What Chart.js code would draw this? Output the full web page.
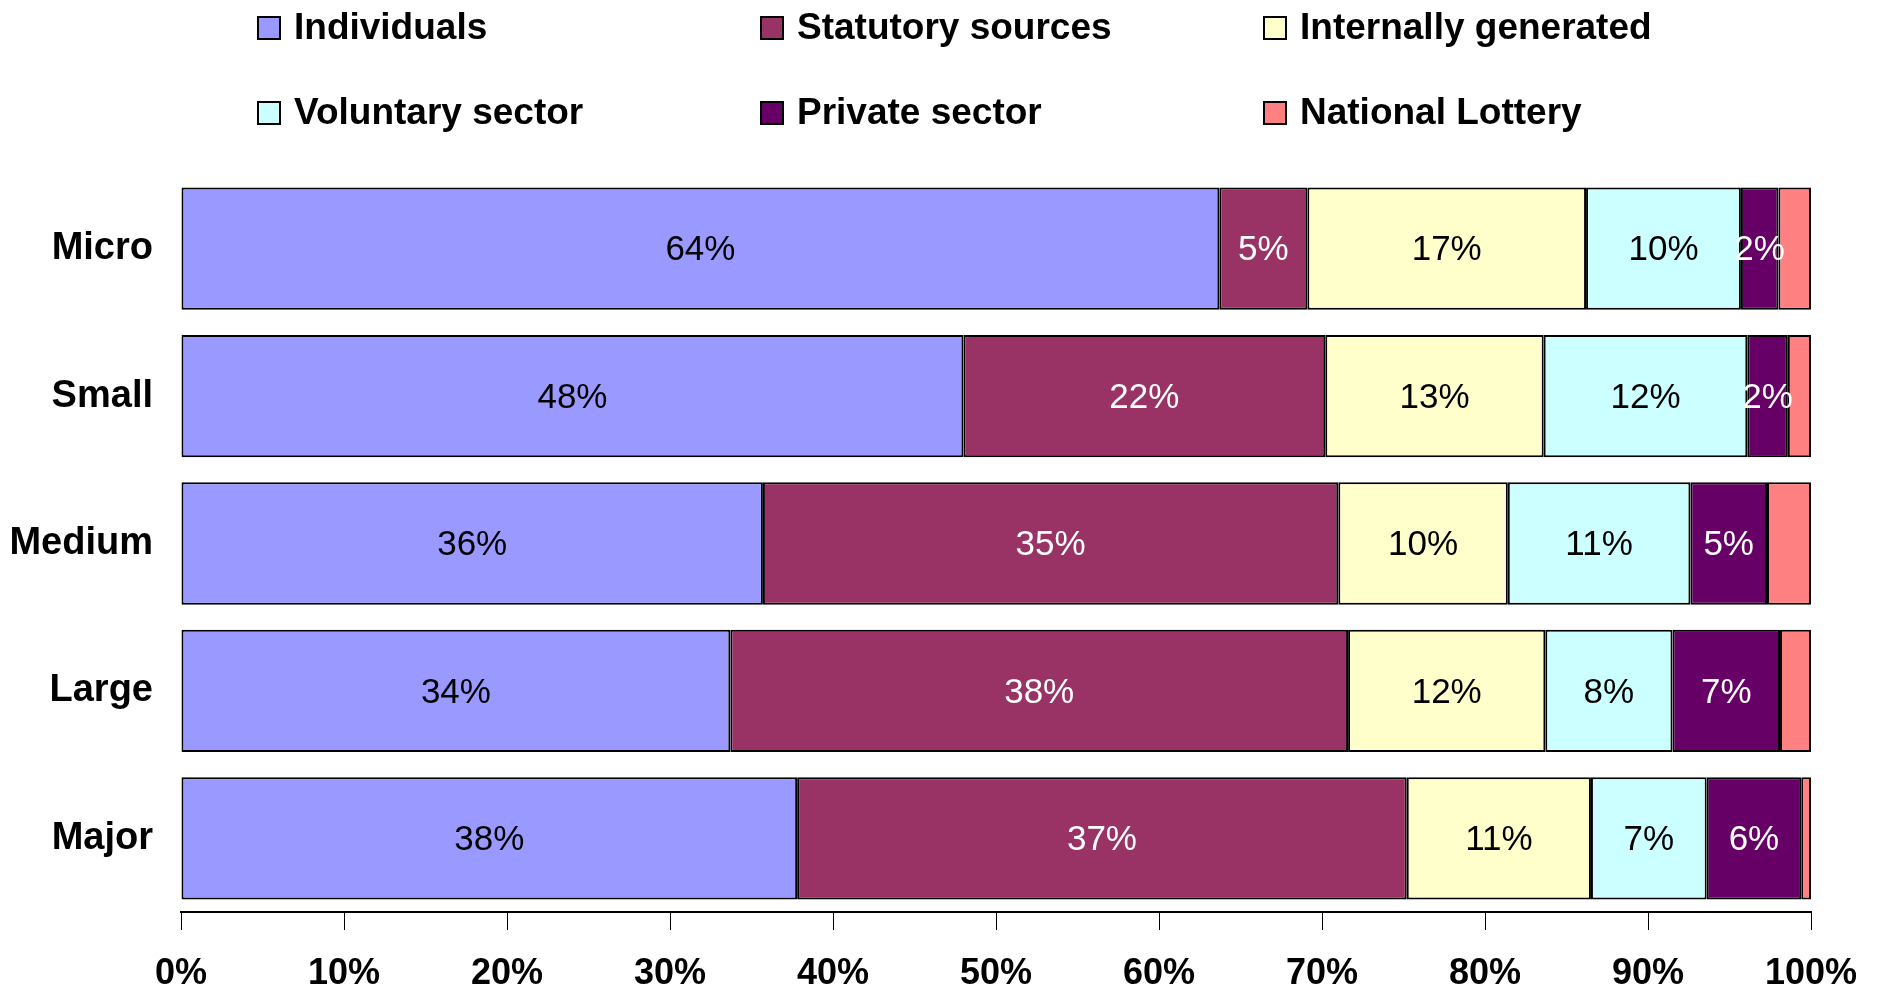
<!DOCTYPE html>
<html>
<head>
<meta charset="utf-8">
<script src="https://cdn.jsdelivr.net/npm/chart.js@4/dist/chart.umd.min.js"></script>
<style>
  html, body { margin: 0; padding: 0; background: #fff; }
  #wrap { width: 1881px; height: 992px; position: relative; }
</style>
</head>
<body>
<div id="wrap"><canvas id="fundingChart"></canvas></div>
<script>
// Income sources by charity size (% of total income)
const categories = ["Micro", "Small", "Medium", "Large", "Major"];
const seriesNames = [
  "Individuals",
  "Statutory sources",
  "Internally generated",
  "Voluntary sector",
  "Private sector",
  "National Lottery",
];
const individuals = [63.7, 48.0, 35.7, 33.7, 37.8];
const statutory = [5.4, 22.2, 35.3, 37.9, 37.4];
const internallyGenerated = [17.1, 13.4, 10.4, 12.1, 11.3];
const voluntarySector = [9.5, 12.49, 11.2, 7.8, 7.1];
const privateSector = [2.3, 2.49, 4.7, 6.6, 5.8];
const nationalLottery = [2.0, 1.42, 2.7, 1.9, 0.6];
const xTicks = [0, 10, 20, 30, 40, 50, 60, 70, 80, 90, 100];

const colors = ["#9999FF", "#993366", "#FFFFCC", "#CCFFFF", "#660066", "#FF8080"];
const labelColors = ["#000", "#fff", "#000", "#000", "#fff", null];
const FONT = "'Liberation Sans', Arial, sans-serif";

const seriesData = [
  individuals,
  statutory,
  internallyGenerated,
  voluntarySector,
  privateSector,
  nationalLottery,
];

const datasets = seriesData.map((data, i) => ({
  label: seriesNames[i],
  data,
  backgroundColor: colors[i],
  borderColor: "#000",
  borderWidth: 2,
  borderSkipped: false,
  categoryPercentage: 1,
  barPercentage: 0.83,
}));

// values printed in the middle of each segment
const segmentLabels = {
  id: "segmentLabels",
  afterDatasetsDraw(chart) {
    const { ctx } = chart;
    ctx.save();
    ctx.font = `35px ${FONT}`;
    ctx.textAlign = "center";
    ctx.textBaseline = "middle";
    chart.data.datasets.forEach((ds, i) => {
      if (!labelColors[i]) return;
      const meta = chart.getDatasetMeta(i);
      ctx.fillStyle = labelColors[i];
      meta.data.forEach((bar, j) => {
        const p = bar.getCenterPoint();
        ctx.fillText(Math.round(ds.data[j]) + "%", p.x, p.y + 2);
      });
    });
    ctx.restore();
  },
};

// 3 x 2 legend at the top
const gridLegend = {
  id: "gridLegend",
  afterDraw(chart) {
    const { ctx } = chart;
    const colX = [258, 761, 1264];
    const rowY = [28, 113];
    ctx.save();
    ctx.font = `bold 37px ${FONT}`;
    ctx.textBaseline = "middle";
    ctx.textAlign = "left";
    chart.data.datasets.forEach((ds, i) => {
      const x = colX[i % 3];
      const y = rowY[Math.floor(i / 3)];
      ctx.fillStyle = ds.backgroundColor;
      ctx.fillRect(x, y - 11, 22, 22);
      ctx.lineWidth = 2;
      ctx.strokeStyle = "#000";
      ctx.strokeRect(x, y - 11, 22, 22);
      ctx.fillStyle = "#000";
      ctx.fillText(ds.label, x + 36, y + 1);
    });
    ctx.restore();
  },
};

new Chart(document.getElementById("fundingChart"), {
  type: "bar",
  data: { labels: categories, datasets },
  options: {
    indexAxis: "y",
    responsive: true,
    maintainAspectRatio: false,
    animation: false,
    layout: { padding: { top: 175, right: 70, left: 0, bottom: 0 } },
    plugins: {
      legend: { display: false },
      tooltip: { enabled: false },
    },
    scales: {
      x: {
        stacked: true,
        min: 0,
        max: 100,
        afterFit: (s) => { s.height = 80; },
        afterBuildTicks: (s) => { s.ticks = xTicks.map((v) => ({ value: v })); },
        border: { display: true, color: "#000", width: 2 },
        grid: {
          drawOnChartArea: false,
          drawTicks: true,
          tickLength: 18,
          tickWidth: 1,
          tickColor: "#000",
        },
        ticks: {
          color: "#000",
          font: { family: FONT, size: 36, weight: "bold" },
          padding: 22,
          maxRotation: 0,
          callback: (v) => v + "%",
        },
      },
      y: {
        stacked: true,
        afterFit: (s) => { s.width = 181; },
        border: { display: false },
        grid: { display: false },
        ticks: {
          color: "#000",
          font: { family: FONT, size: 38, weight: "bold" },
          padding: 20,
        },
      },
    },
  },
  plugins: [segmentLabels, gridLegend],
});
</script>
</body>
</html>
